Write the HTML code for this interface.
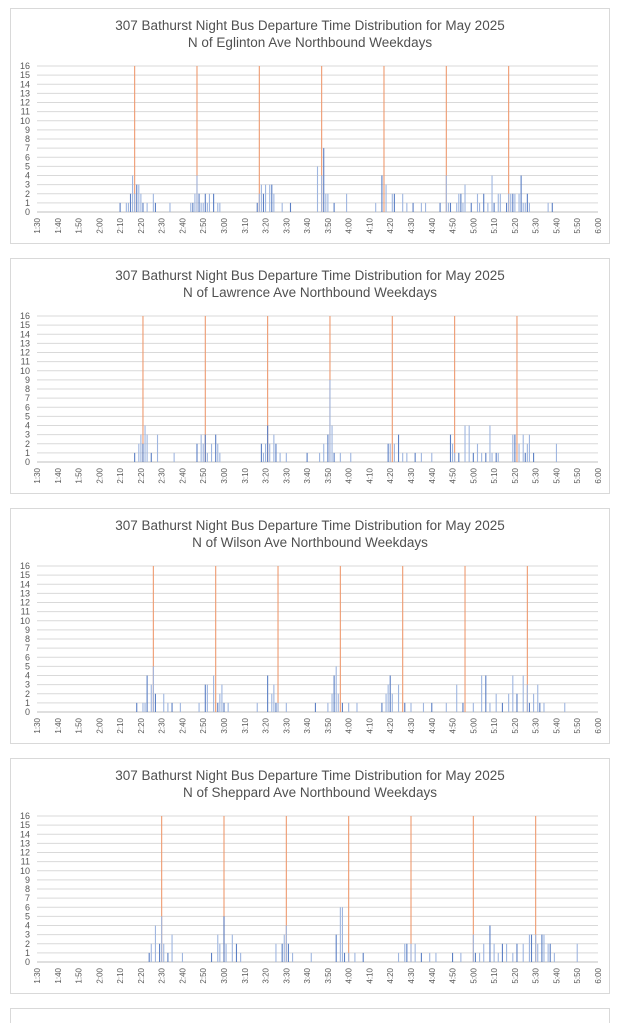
<!DOCTYPE html>
<html><head><meta charset="utf-8">
<style>
body{margin:0;background:#fff;width:620px;height:1023px;overflow:hidden;font-family:"Liberation Sans",sans-serif}
svg{display:block}
</style></head>
<body>
<svg id="c" width="620" height="1023"></svg>
<script>
const titles=["N of Eglinton Ave Northbound Weekdays","N of Lawrence Ave Northbound Weekdays","N of Wilson Ave Northbound Weekdays","N of Sheppard Ave Northbound Weekdays"];
const yTicks=[0,1,2,3,4,5,6,7,8,9,10,11,12,13,14,15,16];
const xTicks=["1:30","1:40","1:50","2:00","2:10","2:20","2:30","2:40","2:50","3:00","3:10","3:20","3:30","3:40","3:50","4:00","4:10","4:20","4:30","4:40","4:50","5:00","5:10","5:20","5:30","5:40","5:50","6:00"];
const sched1=["2:17","2:47","3:17","3:47","4:17","4:47","5:17"];
const sched2=["2:21","2:51","3:21","3:51","4:21","4:51","5:21"];
const sched3=["2:26","2:56","3:26","3:56","4:26","4:56","5:26"];
const sched4=["2:30","3:00","3:30","4:00","4:30","5:00","5:30"];
const bars1="2:10:1,2:13:1,2:14:1,2:15:2,2:16:4,2:17:2,2:18:3,2:19:3,2:20:2,2:21:1,2:23:1,2:26:2,2:27:1,2:34:1,2:44:1,2:45:1,2:46:2,2:47:4,2:48:2,2:49:1,2:50:1,2:51:2,2:52:1,2:53:2,2:55:2,2:57:1,2:58:1,3:16:1,3:17:2,3:18:3,3:19:2,3:20:3,3:22:3,3:23:3,3:24:2,3:28:1,3:32:1,3:45:5,3:47:4,3:48:7,3:49:2,3:50:2,3:53:1,3:59:2,4:13:1,4:16:4,4:18:3,4:21:2,4:22:2,4:26:2,4:28:1,4:31:1,4:35:1,4:37:1,4:44:1,4:47:4,4:48:1,4:49:1,4:52:1,4:53:2,4:54:2,4:55:1,4:56:3,4:59:1,5:02:2,5:03:1,5:05:2,5:07:1,5:09:4,5:10:1,5:12:2,5:13:2,5:16:1,5:17:2,5:18:2,5:19:2,5:20:2,5:22:2,5:23:4,5:24:1,5:25:1,5:26:2,5:27:1,5:36:1,5:38:1";
const bars2="2:17:1,2:19:2,2:20:3,2:21:2,2:22:4,2:23:3,2:25:1,2:28:3,2:36:1,2:47:2,2:49:3,2:50:2,2:51:3,2:52:1,2:54:2,2:56:3,2:57:2,2:58:1,3:18:2,3:19:1,3:20:2,3:21:4,3:22:2,3:24:3,3:25:2,3:27:1,3:30:1,3:40:1,3:46:1,3:48:2,3:50:3,3:51:9,3:52:4,3:53:1,3:56:1,4:01:1,4:19:2,4:20:2,4:22:2,4:24:3,4:26:1,4:28:1,4:32:1,4:35:1,4:40:1,4:49:3,4:50:2,4:51:1,4:53:1,4:56:4,4:58:4,5:00:1,5:02:2,5:04:1,5:06:1,5:08:4,5:09:1,5:11:1,5:12:1,5:19:3,5:20:3,5:22:2,5:24:3,5:25:1,5:26:2,5:27:3,5:29:1,5:40:2";
const bars3="2:18:1,2:21:1,2:22:1,2:23:4,2:25:3,2:26:5,2:27:2,2:31:2,2:33:1,2:35:1,2:39:1,2:48:1,2:51:3,2:52:3,2:55:4,2:57:1,2:58:2,2:59:3,3:00:1,3:02:1,3:16:1,3:21:4,3:23:2,3:24:3,3:25:1,3:26:1,3:30:1,3:44:1,3:50:1,3:52:2,3:53:4,3:54:5,3:55:2,3:57:1,4:00:1,4:04:1,4:16:1,4:18:2,4:19:3,4:20:4,4:21:2,4:24:3,4:27:1,4:30:1,4:36:1,4:40:1,4:47:1,4:52:3,4:55:1,5:00:1,5:04:4,5:06:4,5:08:1,5:11:2,5:14:1,5:17:2,5:19:4,5:21:2,5:24:4,5:26:3,5:27:1,5:29:2,5:31:3,5:32:1,5:34:1,5:44:1";
const bars4="2:24:1,2:25:2,2:27:4,2:29:2,2:30:5,2:31:2,2:33:1,2:35:3,2:40:1,2:54:1,2:57:3,2:58:2,3:00:5,3:01:2,3:04:3,3:06:2,3:08:1,3:25:2,3:28:2,3:29:3,3:30:4,3:31:2,3:33:1,3:42:1,3:54:3,3:56:6,3:57:6,3:58:1,4:00:1,4:03:1,4:07:1,4:24:1,4:27:2,4:28:2,4:30:2,4:32:2,4:35:1,4:39:1,4:42:1,4:50:1,4:54:1,5:00:3,5:01:1,5:03:1,5:05:2,5:08:4,5:10:2,5:12:1,5:14:2,5:16:2,5:19:1,5:21:2,5:24:2,5:27:3,5:28:3,5:30:3,5:31:2,5:33:3,5:34:3,5:36:2,5:37:2,5:39:1,5:50:2";
const scheds=[sched1,sched2,sched3,sched4];
const barsets=[bars1,bars2,bars3,bars4];

const NS="http://www.w3.org/2000/svg";
const svg=document.getElementById('c');
function mk(t,a,p){const e=document.createElementNS(NS,t);for(const k in a)e.setAttribute(k,a[k]);(p||svg).appendChild(e);return e;}
function mins(s){const p=s.split(':');return (+p[0])*60+(+p[1]);}
const X0=37,X1=598,T0=mins("1:30"),T1=mins("6:00");
function xs(t){return X0+(t-T0)/(T1-T0)*(X1-X0);}
for(let i=0;i<4;i++){
  const off=250*i, y0=962-750+off, yt=816-750+off;
  const ys=v=>y0-(v/16)*(y0-yt);
  const g=mk('g',{});
  
  
  const r=mk('rect',{x:10.5,y:8.5+off,width:599,height:235,fill:'#fff',stroke:'#d9d9d9'},g);
  
  const t1=mk('text',{x:310,y:30+off,'text-anchor':'middle','font-size':13.5,fill:'#505050'},g);
  t1.textContent="307 Bathurst Night Bus Departure Time Distribution for May 2025";
  
  const t2=mk('text',{x:310,y:47+off,'text-anchor':'middle','font-size':13.5,fill:'#505050'},g);
  t2.textContent=titles[i];
  
  yTicks.forEach(v=>{
    const y=ys(v);
    if(v>0){const l=mk('line',{x1:X0,x2:X1,y1:y,y2:y,stroke:'#d9d9d9','stroke-width':1},g);
      }
    const tx=mk('text',{x:30,y:y+3,'text-anchor':'end','font-size':9,fill:'#595959'},g);
    tx.textContent=v;
    
  });
  const ax=mk('line',{x1:X0,x2:X1,y1:y0,y2:y0,stroke:'#bfbfbf'},g);
  
  xTicks.forEach(s=>{
    const x=xs(mins(s));
    const tx=mk('text',{x:0,y:0,'text-anchor':'end','font-size':8,fill:'#595959',transform:`translate(${x+3},${y0+6}) rotate(-90)`},g);
    tx.textContent=s;
    
  });
  scheds[i].forEach(s=>{
    const x=xs(mins(s));
    const l=mk('line',{x1:x,x2:x,y1:ys(16),y2:y0,stroke:'#ee9a70','stroke-width':1.1},g);
    
  });
  barsets[i].split(',').forEach((b,j)=>{
    const p=b.split(':');const t=(+p[0])*60+(+p[1]);const v=+p[2];
    const x=xs(t);
    const l=mk('line',{x1:x,x2:x,y1:ys(v),y2:y0,stroke:j%3==0?'#5b7fc4':'#9fb6e0','stroke-width':1.1},g);
    
  });
}
const p5=mk('rect',{x:10.5,y:1008.5,width:599,height:30,fill:'#fff',stroke:'#d9d9d9'});

</script>
</body></html>
